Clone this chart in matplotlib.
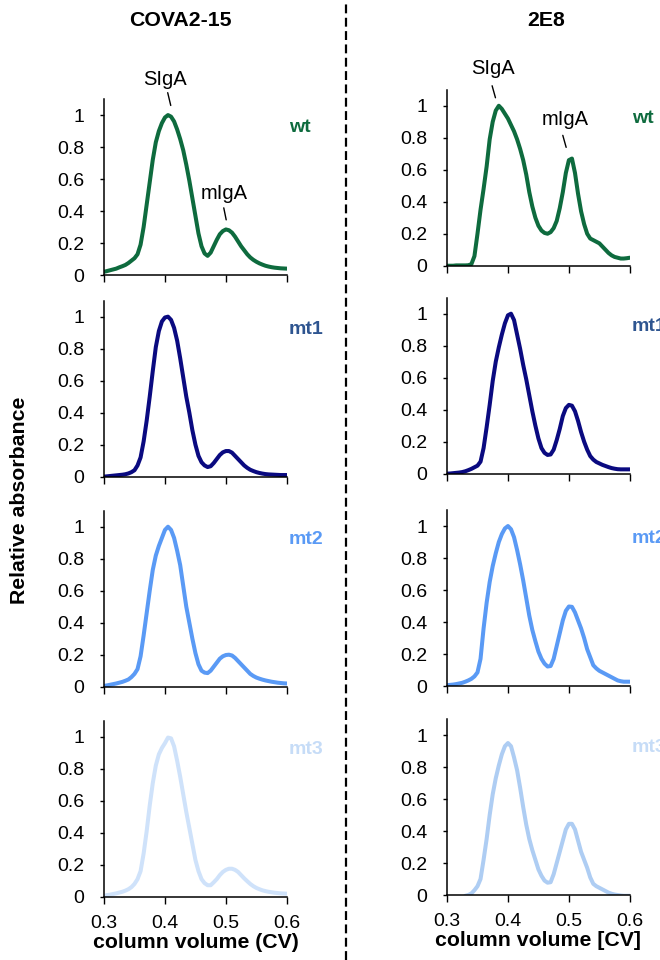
import numpy as np
import matplotlib
matplotlib.use("Agg")
import matplotlib.pyplot as plt
from matplotlib.lines import Line2D

plt.rcParams["font.family"] = ["Liberation Sans", "DejaVu Sans"]

# elution volume grid (CV), read every 0.005 CV
cv = np.round(np.arange(0.300, 0.6001, 0.005), 3)

# COVA2-15 traces
cova_wt = [0.02, 0.025, 0.03, 0.035, 0.04, 0.048, 0.055, 0.063, 0.075, 0.09,
           0.105, 0.13, 0.19, 0.30, 0.44, 0.58, 0.72, 0.83, 0.90, 0.95,
           0.985, 1.00, 0.99, 0.96, 0.91, 0.85, 0.78, 0.69, 0.59, 0.48,
           0.37, 0.26, 0.18, 0.135, 0.12, 0.14, 0.18, 0.22, 0.255, 0.275,
           0.285, 0.28, 0.265, 0.24, 0.21, 0.18, 0.155, 0.13, 0.11, 0.095,
           0.083, 0.073, 0.065, 0.058, 0.053, 0.049, 0.046, 0.044, 0.042, 0.041,
           0.04]
cova_mt1 = [0.0, 0.002, 0.004, 0.006, 0.008, 0.01, 0.012, 0.015, 0.02, 0.028,
            0.04, 0.07, 0.12, 0.22, 0.35, 0.50, 0.66, 0.81, 0.91, 0.97,
            0.995, 1.00, 0.98, 0.93, 0.85, 0.74, 0.62, 0.50, 0.40, 0.29,
            0.20, 0.13, 0.09, 0.07, 0.06, 0.065, 0.085, 0.11, 0.135, 0.152,
            0.16, 0.16, 0.15, 0.13, 0.11, 0.09, 0.07, 0.055, 0.043, 0.035,
            0.028, 0.023, 0.019, 0.016, 0.014, 0.013, 0.012, 0.011, 0.01, 0.01,
            0.01]
cova_mt2 = [0.005, 0.008, 0.012, 0.016, 0.02, 0.025, 0.03, 0.037, 0.045, 0.06,
            0.08, 0.11, 0.19, 0.32, 0.46, 0.60, 0.73, 0.82, 0.88, 0.93,
            0.98, 1.00, 0.98, 0.93, 0.85, 0.76, 0.63, 0.50, 0.40, 0.30,
            0.21, 0.14, 0.10, 0.088, 0.085, 0.10, 0.125, 0.15, 0.175, 0.19,
            0.198, 0.20, 0.195, 0.18, 0.16, 0.14, 0.12, 0.10, 0.08, 0.067,
            0.057, 0.05, 0.044, 0.039, 0.035, 0.031, 0.028, 0.025, 0.023, 0.021,
            0.02]
cova_mt3 = [0.006, 0.01, 0.013, 0.017, 0.021, 0.026, 0.031, 0.038, 0.047, 0.06,
            0.08, 0.11, 0.16, 0.27, 0.41, 0.57, 0.71, 0.82, 0.89, 0.93,
            0.96, 0.995, 0.99, 0.94, 0.85, 0.75, 0.64, 0.53, 0.43, 0.33,
            0.23, 0.16, 0.11, 0.085, 0.072, 0.072, 0.09, 0.11, 0.135, 0.155,
            0.168, 0.175, 0.175, 0.168, 0.155, 0.135, 0.115, 0.097, 0.08, 0.066,
            0.055, 0.047, 0.04, 0.035, 0.031, 0.028, 0.025, 0.023, 0.021, 0.02,
            0.019]

# 2E8 traces
e8_wt = [0.0, 0.0, 0.0, 0.002, 0.002, 0.002, 0.002, 0.003, 0.01, 0.06,
         0.20, 0.35, 0.48, 0.62, 0.79, 0.90, 0.97, 1.00, 0.98, 0.95,
         0.92, 0.88, 0.84, 0.79, 0.73, 0.66, 0.57, 0.46, 0.37, 0.30,
         0.25, 0.22, 0.205, 0.20, 0.21, 0.235, 0.28, 0.36, 0.46, 0.58,
         0.66, 0.67, 0.58, 0.45, 0.34, 0.26, 0.20, 0.17, 0.16, 0.15,
         0.14, 0.12, 0.10, 0.08, 0.065, 0.055, 0.05, 0.045, 0.045, 0.047,
         0.05]
e8_mt1 = [0.0, 0.001, 0.003, 0.005, 0.007, 0.01, 0.015, 0.022, 0.03, 0.04,
          0.05, 0.075, 0.16, 0.29, 0.43, 0.58, 0.70, 0.79, 0.87, 0.94,
          0.99, 1.00, 0.96, 0.87, 0.78, 0.68, 0.59, 0.49, 0.39, 0.30,
          0.22, 0.16, 0.13, 0.117, 0.12, 0.15, 0.21, 0.28, 0.36, 0.41,
          0.43, 0.425, 0.39, 0.33, 0.26, 0.20, 0.15, 0.11, 0.088, 0.073,
          0.064, 0.055, 0.048, 0.041, 0.035, 0.031, 0.028, 0.027, 0.027, 0.027,
          0.027]
e8_mt2 = [0.005, 0.007, 0.009, 0.012, 0.016, 0.02, 0.027, 0.035, 0.045, 0.06,
          0.085, 0.17, 0.36, 0.52, 0.65, 0.75, 0.83, 0.90, 0.95, 0.985,
          1.00, 0.98, 0.93, 0.85, 0.76, 0.66, 0.55, 0.44, 0.35, 0.28,
          0.215, 0.17, 0.14, 0.122, 0.125, 0.17, 0.25, 0.33, 0.41, 0.47,
          0.497, 0.495, 0.46, 0.41, 0.36, 0.30, 0.23, 0.18, 0.13, 0.11,
          0.095, 0.085, 0.075, 0.065, 0.055, 0.045, 0.035, 0.03, 0.027, 0.027,
          0.027]
e8_mt3 = [np.nan, np.nan, np.nan, np.nan, np.nan, np.nan, -0.005, 0.0, 0.01, 0.03,
          0.055, 0.10, 0.22, 0.35, 0.50, 0.63, 0.73, 0.81, 0.88, 0.93,
          0.95, 0.93, 0.86, 0.78, 0.67, 0.55, 0.44, 0.35, 0.28, 0.22,
          0.16, 0.12, 0.09, 0.077, 0.08, 0.13, 0.20, 0.27, 0.34, 0.41,
          0.445, 0.445, 0.41, 0.34, 0.27, 0.22, 0.17, 0.11, 0.07, 0.055,
          0.045, 0.035, 0.025, 0.015, 0.008, 0.003, 0.0, -0.003, -0.005, -0.005,
          -0.005]

variants = ["wt", "mt1", "mt2", "mt3"]
columns = ["COVA2-15", "2E8"]
traces = {
    "COVA2-15": [cova_wt, cova_mt1, cova_mt2, cova_mt3],
    "2E8": [e8_wt, e8_mt1, e8_mt2, e8_mt3],
}
xlabels = ["column volume (CV)", "column volume [CV]"]

# peak labels on the wt panels: (text, text position, leader start, leader end)
peak_notes = {
    "COVA2-15": [("SIgA", (0.4, 1.22), (0.4045, 1.14), (0.4095, 1.06)),
                 ("mIgA", (0.497, 0.51), (0.4965, 0.42), (0.5005, 0.345))],
    "2E8": [("SIgA", (0.376, 1.23), (0.374, 1.125), (0.3795, 1.05)),
            ("mIgA", (0.494, 0.915), (0.49, 0.815), (0.4955, 0.74))],
}

line_colors = {
    "COVA2-15": ["#0e6b3e", "#0a0a80", "#5a9af5", "#cfe2fa"],
    "2E8": ["#0e6b3e", "#0a0a80", "#5a9af5", "#aecdf3"],
}
label_colors = ["#0e6b3e", "#2e5590", "#5a9af5", "#c6dcf7"]

# panel geometry (figure fractions)
col_left = [0.1576, 0.6773]
col_width = 0.2770
row_bottom = {
    "COVA2-15": [0.7135, 0.5035, 0.2847, 0.0659],
    "2E8": [0.7232, 0.5066, 0.2854, 0.0677],
}
panel_h = 0.1833

fig = plt.figure(figsize=(6.6, 9.6), dpi=100)

for c, name in enumerate(columns):
    for r, var in enumerate(variants):
        ax = fig.add_axes([col_left[c], row_bottom[name][r], col_width, panel_h])
        ax.plot(cv, traces[name][r], color=line_colors[name][r], lw=2.9,
                solid_capstyle="round", solid_joinstyle="round")
        ax.set_xlim(0.3, 0.6)
        ax.set_ylim(0, 1.1)
        ax.set_xticks([0.3, 0.4, 0.5, 0.6])
        ax.set_yticks([0, 0.2, 0.4, 0.6, 0.8, 1.0])
        ax.set_yticklabels(["0", "0.2", "0.4", "0.6", "0.8", "1"])
        for s in ["top", "right"]:
            ax.spines[s].set_visible(False)
        for s in ["left", "bottom"]:
            ax.spines[s].set_linewidth(1.1)
        ax.tick_params(axis="y", direction="out", length=3, width=1.0,
                       pad=11, labelsize=14)
        ax.tick_params(axis="x", direction="out", length=5, width=1.0,
                       pad=8, labelsize=14)
        if r < 3:
            ax.set_xticklabels([])
        else:
            ax.set_xlabel(xlabels[c], fontsize=15.3, fontweight="bold", labelpad=1)
        ax.patch.set_visible(False)
        ax.text(1.01, 0.92, var, transform=ax.get_yaxis_transform(),
                ha="left", va="center", fontsize=14, fontweight="bold",
                color=label_colors[r], clip_on=False)

        if r == 0:
            for txt, tpos, p0, p1 in peak_notes[name]:
                ax.text(tpos[0], tpos[1], txt, ha="center", va="center",
                        fontsize=14.5, clip_on=False)
                ax.annotate("", xy=p1, xytext=p0,
                            arrowprops=dict(arrowstyle="-", lw=1.0, color="black",
                                            shrinkA=0, shrinkB=0),
                            annotation_clip=False)

fig.text(180 / 660, 1 - 21 / 960, "COVA2-15", ha="center", va="center",
         fontsize=15.3, fontweight="bold")
fig.text(546 / 660, 1 - 21 / 960, "2E8", ha="center", va="center",
         fontsize=15.3, fontweight="bold")
fig.text(20 / 660, 0.5 - 20 / 960, "Relative absorbance", rotation=90,
         ha="center", va="center", fontsize=15.3, fontweight="bold")

fig.add_artist(Line2D([346 / 660, 346 / 660], [0, 1], transform=fig.transFigure,
                      color="black", lw=1.6, linestyle=(0, (4, 2))))

fig.savefig("out.png", dpi=100)
